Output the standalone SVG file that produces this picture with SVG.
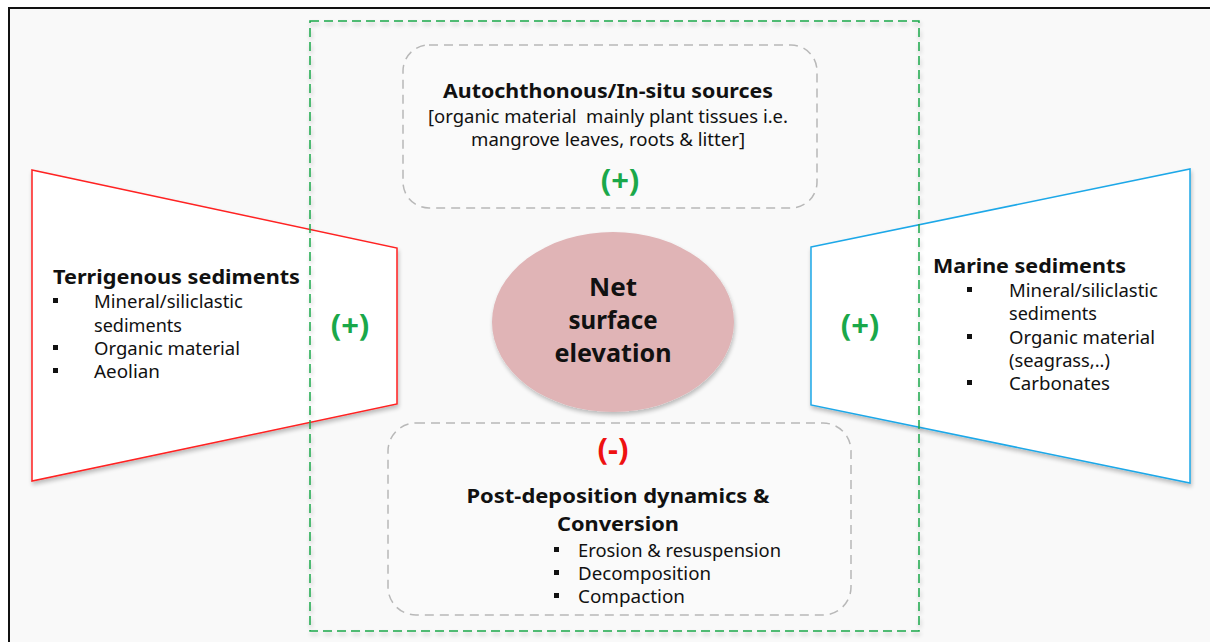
<svg xmlns="http://www.w3.org/2000/svg" width="1210" height="642" viewBox="0 0 1210 642">
<defs>
<filter id="sh" x="-10%" y="-10%" width="130%" height="130%">
<feGaussianBlur in="SourceAlpha" stdDeviation="2"/>
<feOffset dx="1" dy="3" result="b"/>
<feComponentTransfer><feFuncA type="linear" slope="0.25"/></feComponentTransfer>
<feMerge><feMergeNode/><feMergeNode in="SourceGraphic"/></feMerge>
</filter>
<style>
text{font-family:"Noto Sans","Open Sans","Liberation Sans",sans-serif;fill:#111}
.b{font-weight:bold}
.t{font-size:20px}
.n{font-size:17.5px}
.plus{font-size:31px;font-weight:bold;fill:#1aa84a}
.minus{font-size:31px;font-weight:bold;fill:#ee1111}
.box{fill:#fafafa;stroke:#b8b8b8;stroke-width:1.5;stroke-dasharray:9 6}
.bul{fill:#111}
</style>
</defs>
<rect x="0" y="0" width="1210" height="642" fill="#ffffff"/>
<rect x="9" y="8" width="1210" height="650" fill="#f9f9f9" stroke="#111" stroke-width="2"/>

<g id="terrigenous">
<polygon points="32,170 397,248 397,404 32,481" fill="#ffffff" stroke="#ff2020" stroke-width="1.5" filter="url(#sh)"/>
<text class="b t" x="53" y="284" textLength="247" lengthAdjust="spacingAndGlyphs">Terrigenous sediments</text>
<rect class="bul" x="53" y="298" width="5" height="5"/>
<text class="n" x="94" y="308" textLength="149" lengthAdjust="spacingAndGlyphs">Mineral/siliclastic</text>
<text class="n" x="94" y="332" textLength="88" lengthAdjust="spacingAndGlyphs">sediments</text>
<rect class="bul" x="53" y="345" width="5" height="5"/>
<text class="n" x="94" y="355" textLength="146" lengthAdjust="spacingAndGlyphs">Organic material</text>
<rect class="bul" x="53" y="368" width="5" height="5"/>
<text class="n" x="94" y="378" textLength="66" lengthAdjust="spacingAndGlyphs">Aeolian</text>
<text class="plus" x="350" y="336" text-anchor="middle">(+)</text>
</g>

<g id="marine">
<polygon points="811,247 1190,169 1190,483 811,405" fill="#ffffff" stroke="#1ea8e8" stroke-width="1.5" filter="url(#sh)"/>
<text class="b t" x="933" y="273" textLength="193" lengthAdjust="spacingAndGlyphs">Marine sediments</text>
<rect class="bul" x="967" y="287" width="5" height="5"/>
<text class="n" x="1009" y="297" textLength="149" lengthAdjust="spacingAndGlyphs">Mineral/siliclastic</text>
<text class="n" x="1009" y="320" textLength="88" lengthAdjust="spacingAndGlyphs">sediments</text>
<rect class="bul" x="967" y="334" width="5" height="5"/>
<text class="n" x="1009" y="344" textLength="146" lengthAdjust="spacingAndGlyphs">Organic material</text>
<text class="n" x="1009" y="367" textLength="101" lengthAdjust="spacingAndGlyphs">(seagrass,..)</text>
<rect class="bul" x="967" y="380" width="5" height="5"/>
<text class="n" x="1009" y="390" textLength="101" lengthAdjust="spacingAndGlyphs">Carbonates</text>
<text class="plus" x="860" y="336" text-anchor="middle">(+)</text>
</g>

<g id="autochthonous">
<rect class="box" x="403" y="45" width="414" height="163" rx="26"/>
<text class="b t" x="608" y="98" text-anchor="middle" textLength="330" lengthAdjust="spacingAndGlyphs">Autochthonous/In-situ sources</text>
<text class="n" x="608" y="123" text-anchor="middle" textLength="360" lengthAdjust="spacingAndGlyphs">[organic material&#160; mainly plant tissues i.e.</text>
<text class="n" x="608" y="146" text-anchor="middle" textLength="274" lengthAdjust="spacingAndGlyphs">mangrove leaves, roots &amp; litter]</text>
<text class="plus" x="620" y="191" text-anchor="middle">(+)</text>
</g>

<g id="postdeposition">
<rect class="box" x="388" y="423" width="463" height="192" rx="28"/>
<text class="minus" x="613" y="460" text-anchor="middle">(-)</text>
<text class="b t" x="618" y="503" text-anchor="middle" textLength="303" lengthAdjust="spacingAndGlyphs">Post-deposition dynamics &amp;</text>
<text class="b t" x="618" y="531" text-anchor="middle" textLength="122" lengthAdjust="spacingAndGlyphs">Conversion</text>
<rect class="bul" x="554" y="547" width="5" height="5"/>
<text class="n" x="578" y="557" textLength="203" lengthAdjust="spacingAndGlyphs">Erosion &amp; resuspension</text>
<rect class="bul" x="554" y="570" width="5" height="5"/>
<text class="n" x="578" y="580" textLength="133" lengthAdjust="spacingAndGlyphs">Decomposition</text>
<rect class="bul" x="554" y="593" width="5" height="5"/>
<text class="n" x="578" y="603" textLength="107" lengthAdjust="spacingAndGlyphs">Compaction</text>
</g>

<g id="net">
<ellipse cx="613" cy="322" rx="121" ry="90" fill="#e0b4b6" filter="url(#sh)"/>
<text class="b" x="613" y="296" text-anchor="middle" font-size="25" textLength="48" lengthAdjust="spacingAndGlyphs">Net</text>
<text class="b" x="613" y="329" text-anchor="middle" font-size="25" textLength="89" lengthAdjust="spacingAndGlyphs">surface</text>
<text class="b" x="613" y="362" text-anchor="middle" font-size="25" textLength="117" lengthAdjust="spacingAndGlyphs">elevation</text>
</g>

<g id="connectors">
<rect x="310" y="21" width="609" height="610" fill="none" stroke="#1aa84a" stroke-width="1.5" stroke-dasharray="9 5" filter="url(#sh)"/>
</g>
</svg>
